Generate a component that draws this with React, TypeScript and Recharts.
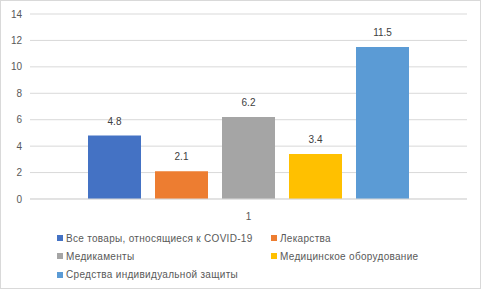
import React from 'react';
import { BarChart, Bar, XAxis, YAxis, CartesianGrid, Legend, LabelList } from 'recharts';

const categories = ['1'];
const seriesNames = [
  'Все товары, относящиеся к COVID-19',
  'Лекарства',
  'Медикаменты',
  'Медицинское оборудование',
  'Средства индивидуальной защиты',
];
const seriesValues = [4.8, 2.1, 6.2, 3.4, 11.5];
const seriesColors = ['#4472C4', '#ED7D31', '#A5A5A5', '#FFC000', '#5B9BD5'];
const yTicks = [0, 2, 4, 6, 8, 10, 12, 14];

const data = categories.map((c) => {
  const row: Record<string, any> = { name: c };
  seriesNames.forEach((s, i) => {
    row['s' + i] = seriesValues[i];
  });
  return row;
});

const FONT = '"Liberation Sans", Arial, sans-serif';

const renderLegend = (props: any) => {
  const payload = props.payload || [];
  return (
    <div style={{ position: 'relative', width: 481, height: 60, fontFamily: FONT, fontSize: 10, color: '#595959' }}>
      {payload.map((p: any, i: number) => {
        const col = i % 2;
        const row = Math.floor(i / 2);
        const left = col === 0 ? 56 : 270;
        const top = row * 18.3;
        return (
          <div key={i} style={{ position: 'absolute', left, top, height: 12, display: 'flex', alignItems: 'center', whiteSpace: 'nowrap' }}>
            <span style={{ display: 'inline-block', width: 6, height: 6, background: p.color, marginRight: 3 }} />
            <span style={{ letterSpacing: 0.3 }}>{p.value}</span>
          </div>
        );
      })}
    </div>
  );
};

export default function App() {
  return (
    <div style={{ position: 'absolute', left: 0, top: 0, width: 481, height: 289, border: '1px solid #D9D9D9', boxSizing: 'border-box', background: '#fff' }}>
      <BarChart
        width={479}
        height={287}
        data={data}
        margin={{ top: 13, right: 13, bottom: 59, left: 0 }}
        barSize={53}
        barGap={14}
      >
        <CartesianGrid vertical={false} stroke="#D9D9D9" />
        <XAxis
          dataKey="name"
          height={30}
          axisLine={{ stroke: '#D9D9D9' }}
          tickLine={false}
          tickMargin={8}
          tick={{ fill: '#595959', fontSize: 10, fontFamily: FONT }}
        />
        <YAxis
          domain={[0, 14]}
          ticks={yTicks}
          width={29}
          axisLine={false}
          tickLine={false}
          tickMargin={2}
          tick={{ fill: '#595959', fontSize: 10, fontFamily: FONT }}
          interval={0}
        />
        <Legend
          layout="horizontal"
          verticalAlign="middle"
          align="center"
          content={renderLegend}
          wrapperStyle={{ left: 0, top: 231, width: 481 }}
        />
        {seriesNames.map((s, i) => (
          <Bar key={s} dataKey={'s' + i} name={s} fill={seriesColors[i]} isAnimationActive={false}>
            <LabelList dataKey={'s' + i} position="top" offset={11} fill="#404040" fontSize={10} fontFamily={FONT} />
          </Bar>
        ))}
      </BarChart>
    </div>
  );
}
